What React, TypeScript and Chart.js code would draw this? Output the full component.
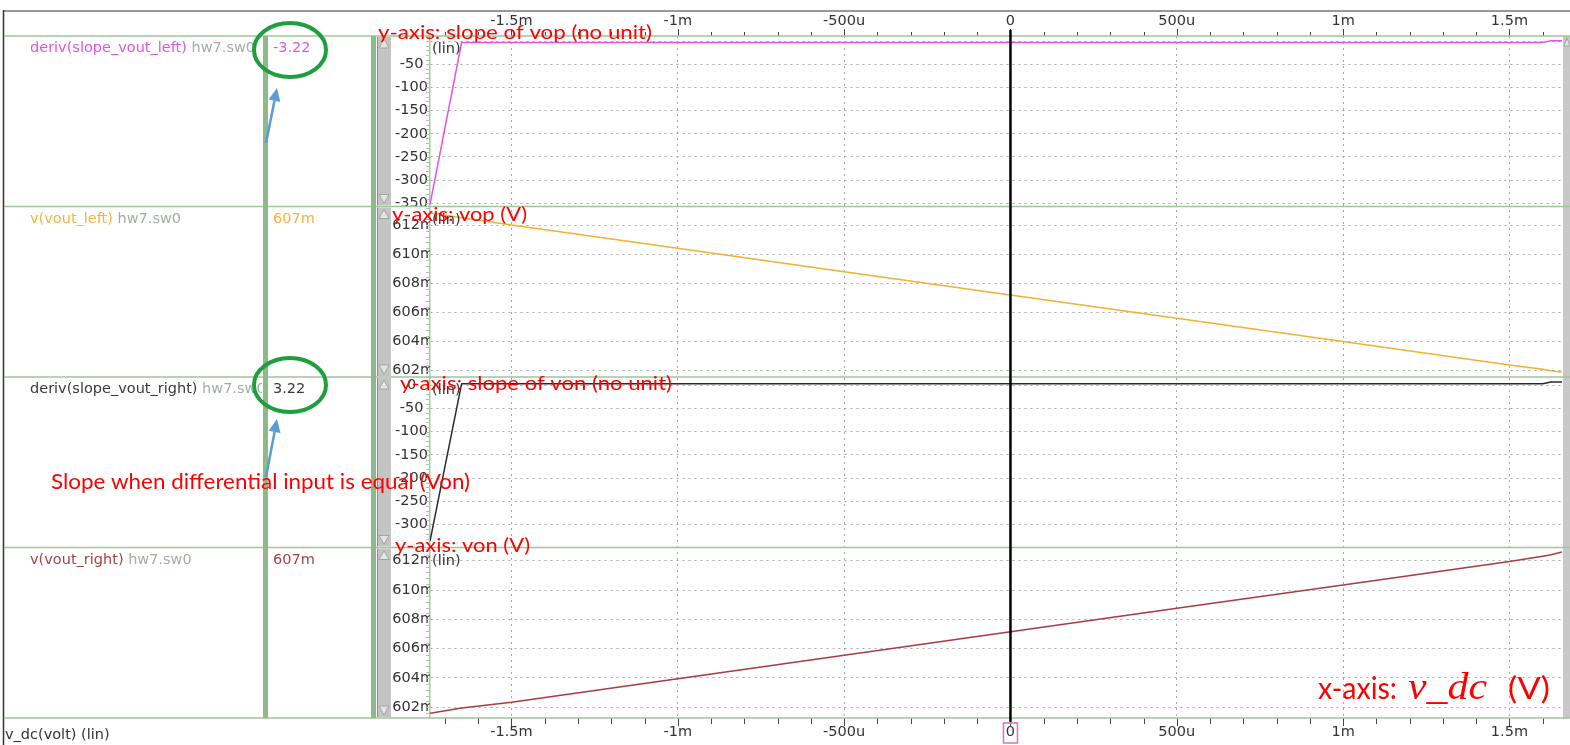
import React, { useEffect, useRef } from 'react';
import { Chart, registerables } from 'chart.js';

Chart.register(...registerables);

// Sweep of v_dc in millivolts
const vdc = [-1.745, -1.65, -1.5, -1.0, -0.5, 0, 0.5, 1.0, 1.5, 1.6, 1.625, 1.658];

// deriv(slope_vout_left)
const slopeLeft = [-352, -3.22, -3.22, -3.22, -3.22, -3.22, -3.22, -3.22, -3.22, -3.22, 0.3, 0.3];
// v(vout_left) in mV
const voutLeft = [612.85, 612.5, 612.0, 610.4, 608.8, 607.2, 605.6, 604.0, 602.4, 602.1, 602.0, 601.9];
// deriv(slope_vout_right)
const slopeRight = [-335, 3.22, 3.22, 3.22, 3.22, 3.22, 3.22, 3.22, 3.22, 3.22, 6.7, 6.7];
// v(vout_right) in mV
const voutRight = [601.6, 601.95, 602.35, 603.95, 605.55, 607.15, 608.75, 610.35, 611.95, 612.3, 612.4, 612.6];

// Strip rows, top to bottom
const traceNames = ['deriv(slope_vout_left)', 'v(vout_left)', 'deriv(slope_vout_right)', 'v(vout_right)'];
const cursorReadouts = ['-3.22', '607m', '3.22', '607m'];
const runName = ' hw7.sw0';
const axisIds = ['ySL', 'yVL', 'ySR', 'yVR'];
const traceColors = ['#e452e4', '#f0b232', '#2a2a2a', '#a83c40'];
const nameColors = ['#e055e0', '#f0b440', '#3a3a3a', '#a04444'];

const W = 1570;
const H = 745;
const UI_FONT = '"DejaVu Sans"';
const GREEN = '#9fc59b';
const GREEN_BAR = '#8dba88';

// millivolt value -> engineering label (u / m suffix)
function fmtVdc(v: number): string {
  const u = Math.round(v * 1000);
  if (u === 0) return '0';
  if (Math.abs(u) < 1000) return `${u}u`;
  return `${u / 1000}m`;
}

function fitText(ctx: CanvasRenderingContext2D, text: string, x: number, y: number, width: number, font: string) {
  ctx.save();
  ctx.font = font;
  ctx.textAlign = 'left';
  ctx.textBaseline = 'alphabetic';
  const w = ctx.measureText(text).width;
  ctx.translate(x, y);
  ctx.scale(width / w, 1);
  ctx.fillText(text, 0, 0);
  ctx.restore();
}

function arrow(ctx: CanvasRenderingContext2D, x1: number, y1: number, x2: number, y2: number) {
  const ang = Math.atan2(y2 - y1, x2 - x1);
  const head = 13;
  const half = 6;
  const bx = x2 - head * Math.cos(ang);
  const by = y2 - head * Math.sin(ang);
  ctx.save();
  ctx.strokeStyle = '#5b9bd5';
  ctx.fillStyle = '#5b9bd5';
  ctx.lineWidth = 2.5;
  ctx.beginPath();
  ctx.moveTo(x1, y1);
  ctx.lineTo(bx, by);
  ctx.stroke();
  ctx.beginPath();
  ctx.moveTo(x2, y2);
  ctx.lineTo(bx + half * Math.sin(ang), by - half * Math.cos(ang));
  ctx.lineTo(bx - half * Math.sin(ang), by + half * Math.cos(ang));
  ctx.closePath();
  ctx.fill();
  ctx.restore();
}

function triangle(ctx: CanvasRenderingContext2D, cx: number, tipY: number, baseY: number, half: number) {
  ctx.beginPath();
  ctx.moveTo(cx, tipY);
  ctx.lineTo(cx - half, baseY);
  ctx.lineTo(cx + half, baseY);
  ctx.closePath();
  ctx.fill();
  ctx.stroke();
}

const decor = {
  id: 'decor',
  beforeDraw(chart: any) {
    const ctx: CanvasRenderingContext2D = chart.ctx;
    ctx.save();
    ctx.fillStyle = '#ffffff';
    ctx.fillRect(0, 0, W, H);

    // strip scrollbars
    axisIds.forEach((id) => {
      const s = chart.scales[id];
      const t = s.top;
      const b = s.bottom;
      ctx.fillStyle = '#c4c4c4';
      ctx.fillRect(377, t + 1, 14, b - t - 2);
      ctx.strokeStyle = '#8c8c8c';
      ctx.lineWidth = 1;
      ctx.beginPath();
      ctx.moveTo(377.5, t + 1);
      ctx.lineTo(377.5, b - 1);
      ctx.stroke();
      ctx.fillStyle = '#e4e4e4';
      ctx.strokeStyle = '#a4a4a4';
      triangle(ctx, 384, t + 3, t + 12, 5);
      triangle(ctx, 384, b - 3, b - 12, 5);
    });

    // right scrollbar
    ctx.fillStyle = '#c8c8c8';
    ctx.fillRect(1563, 36, 7, 682);
    ctx.fillStyle = '#e4e4e4';
    ctx.strokeStyle = '#a4a4a4';
    triangle(ctx, 1567, 38, 46, 3);
    ctx.restore();
  },
  afterDraw(chart: any) {
    const ctx: CanvasRenderingContext2D = chart.ctx;
    const xs = chart.scales.x;
    const area = chart.chartArea;
    ctx.save();

    // y minor ticks
    axisIds.forEach((id) => {
      const s = chart.scales[id];
      const step = id.startsWith('yV') ? 0.4 : 10;
      const k0 = Math.ceil(s.min / step);
      const k1 = Math.floor(s.max / step);
      ctx.strokeStyle = '#a6c8a2';
      ctx.lineWidth = 1;
      for (let k = k0; k <= k1; k++) {
        const y = Math.round(s.getPixelForValue(k * step)) + 0.5;
        ctx.beginPath();
        ctx.moveTo(426, y);
        ctx.lineTo(430, y);
        ctx.stroke();
      }
    });

    // x tick marks every 100u, top and bottom
    ctx.strokeStyle = '#444';
    ctx.lineWidth = 1;
    for (let k = -17; k <= 16; k++) {
      const x = Math.round(xs.getPixelForValue(k * 0.1)) + 0.5;
      const major = k % 5 === 0;
      ctx.beginPath();
      ctx.moveTo(x, area.top);
      ctx.lineTo(x, area.top - (major ? 7 : 4));
      ctx.moveTo(x, area.bottom);
      ctx.lineTo(x, area.bottom + (major ? 8 : 6));
      ctx.stroke();
    }

    // frame lines
    ctx.strokeStyle = '#9a9890';
    ctx.lineWidth = 2;
    ctx.beginPath();
    ctx.moveTo(3, 11);
    ctx.lineTo(W, 11);
    ctx.stroke();
    ctx.strokeStyle = '#333';
    ctx.lineWidth = 1.5;
    ctx.beginPath();
    ctx.moveTo(3.5, 10);
    ctx.lineTo(3.5, H);
    ctx.stroke();

    // strip separators
    const seps = [area.top, ...axisIds.map((id) => chart.scales[id].bottom)];
    ctx.strokeStyle = GREEN;
    ctx.lineWidth = 1.5;
    seps.forEach((y) => {
      ctx.beginPath();
      ctx.moveTo(4, y);
      ctx.lineTo(W, y);
      ctx.stroke();
    });
    ctx.fillStyle = GREEN_BAR;
    ctx.fillRect(263, area.top, 5, area.bottom - area.top);
    ctx.fillRect(371, area.top, 5, area.bottom - area.top);

    // cursor at v_dc = 0
    const cx = xs.getPixelForValue(0);
    ctx.strokeStyle = '#000';
    ctx.lineWidth = 2.5;
    ctx.beginPath();
    ctx.moveTo(cx, area.top - 6);
    ctx.lineTo(cx, area.bottom + 4);
    ctx.stroke();
    ctx.strokeStyle = '#e070b0';
    ctx.lineWidth = 1.5;
    ctx.strokeRect(cx - 7, 723, 14, 20);

    // trace names and cursor readouts
    ctx.font = `14.5px ${UI_FONT}`;
    ctx.textBaseline = 'alphabetic';
    ctx.textAlign = 'left';
    axisIds.forEach((id, i) => {
      const s = chart.scales[id];
      const base = s.top + 16;
      ctx.save();
      ctx.beginPath();
      ctx.rect(5, s.top, 257, s.bottom - s.top);
      ctx.clip();
      ctx.fillStyle = nameColors[i];
      ctx.fillText(traceNames[i], 30, base);
      const w = ctx.measureText(traceNames[i]).width;
      ctx.fillStyle = '#a3aea3';
      ctx.fillText(runName, 30 + w, base);
      ctx.restore();
      ctx.fillStyle = nameColors[i];
      ctx.fillText(cursorReadouts[i], 273, base);
      ctx.fillStyle = '#333';
      ctx.fillText('(lin)', 432, s.top + 17);
    });
    ctx.fillStyle = '#333';
    ctx.fillText('v_dc(volt) (lin)', 5, 739);

    // notes in red
    ctx.fillStyle = '#ff0000';
    fitText(ctx, 'y-axis: slope of vop (no unit)', 378, 39, 274, '19px Lato');
    fitText(ctx, 'y-axis: vop (V)', 392, 221, 135, '19px Lato');
    fitText(ctx, 'y-axis: slope of von (no unit)', 400, 390, 272, '19px Lato');
    fitText(ctx, 'y-axis: von (V)', 395, 552, 135, '19px Lato');
    fitText(ctx, 'Slope when differential input is equal (Von)', 51, 489, 419, '21px Lato');
    fitText(ctx, 'x-axis:', 1318, 699, 79, '30px Lato');
    fitText(ctx, 'v_dc', 1408, 699, 79, 'italic 38px "Liberation Serif"');
    fitText(ctx, '(V)', 1508, 699, 42, '30px Lato');

    // highlight rings and pointers
    ctx.strokeStyle = '#1e9e3c';
    ctx.lineWidth = 4;
    ctx.beginPath();
    ctx.ellipse(290, 50, 36, 27, 0, 0, Math.PI * 2);
    ctx.stroke();
    ctx.beginPath();
    ctx.ellipse(290, 385, 36, 27, 0, 0, Math.PI * 2);
    ctx.stroke();
    arrow(ctx, 266, 143, 277, 88);
    arrow(ctx, 266, 477, 277, 419);

    ctx.restore();
  },
};

const tickFont = { family: UI_FONT, size: 14.5 };
const gridColor = '#a8a8a8';

function yScale(min: number, max: number, step: number, pad: number, fmt: (v: number) => string) {
  return {
    type: 'linear',
    position: 'left',
    stack: 'strips',
    stackWeight: 1,
    offset: false,
    min,
    max,
    afterFit: (s: any) => {
      s.width = 52;
    },
    grid: { color: gridColor, lineWidth: 1, drawTicks: false },
    border: { display: true, color: '#a9cba5', width: 1.5, dash: [2, 4] },
    ticks: {
      z: 1,
      stepSize: step,
      includeBounds: false,
      autoSkip: false,
      padding: pad,
      crossAlign: 'center',
      color: '#333',
      font: tickFont,
      callback: (v: any) => fmt(Number(v)),
    },
  };
}

function xScale(position: 'top' | 'bottom', h: number, onArea: boolean) {
  return {
    type: 'linear',
    position,
    min: vdc[0],
    max: vdc[vdc.length - 1],
    afterFit: (s: any) => {
      s.height = h;
    },
    grid: {
      display: true,
      drawOnChartArea: onArea,
      color: gridColor,
      lineWidth: 1,
      drawTicks: true,
      tickLength: 5,
      tickColor: 'rgba(0,0,0,0)',
    },
    border: { display: false, dash: [2, 4] },
    ticks: {
      stepSize: 0.5,
      includeBounds: false,
      autoSkip: false,
      maxRotation: 0,
      padding: 1,
      color: '#333',
      font: tickFont,
      callback: (v: any) => fmtVdc(Number(v)),
    },
  };
}

function series(values: number[]) {
  return vdc.map((x, i) => ({ x, y: values[i] }));
}

export default function App() {
  const ref = useRef<HTMLCanvasElement>(null);

  useEffect(() => {
    if (!ref.current) return;
    const seriesValues = [slopeLeft, voutLeft, slopeRight, voutRight];
    const chart = new Chart(ref.current, {
      type: 'line',
      data: {
        datasets: seriesValues.map((vals, i) => ({
          label: traceNames[i],
          data: series(vals),
          xAxisID: 'x',
          yAxisID: axisIds[i],
          borderColor: traceColors[i],
          borderWidth: 1.5,
          pointRadius: 0,
          tension: 0,
          fill: false,
        })),
      },
      options: {
        responsive: false,
        animation: false,
        layout: { autoPadding: false, padding: { left: 378, right: 8, top: 0, bottom: 0 } },
        plugins: { legend: { display: false }, tooltip: { enabled: false }, title: { display: false } },
        scales: {
          x: xScale('bottom', 27, true),
          xTop: xScale('top', 36, false),
          // stacked strips, listed bottom first
          yVR: yScale(601.27, 612.9, 2, -4, (v) => `${Math.round(v)}m`),
          ySR: yScale(-349, 17.5, 50, 2, (v) => String(Math.round(v))),
          yVL: yScale(601.57, 613.27, 2, -4, (v) => `${Math.round(v)}m`),
          ySL: yScale(-356.7, 10.8, 50, 2, (v) => (Math.round(v) === 0 ? '' : String(Math.round(v)))),
        } as any,
      } as any,
      plugins: [decor as any],
    });
    return () => chart.destroy();
  }, []);

  return (
    <div style={{ position: 'absolute', left: 0, top: 0, width: W, height: H, background: '#fff' }}>
      <canvas ref={ref} width={W} height={H} style={{ display: 'block' }} />
    </div>
  );
}
